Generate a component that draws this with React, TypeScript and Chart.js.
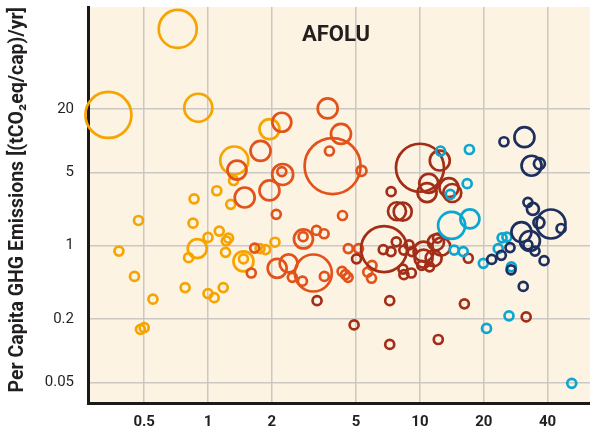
import React, { useEffect, useRef } from "react";
import { Chart, registerables } from "chart.js";

Chart.register(...registerables);

// ---- data ----
const TITLE = "AFOLU";
const Y_TITLE = "Per Capita GHG Emissions [(tCO\u2082eq/cap)/yr]";
const X_TICKS = [0.5, 1, 2, 5, 10, 20, 40];
const Y_TICKS = [0.05, 0.2, 1, 5, 20];
const X_RANGE = [0.2716, 63.4];
const Y_RANGE = [0.0318, 187.7];

// [x, y, bubble radius]
const yellowPoints = [
  [0.72, 116, 19], [0.339, 17.6, 23], [0.9, 20.6, 14], [1.95, 12.9, 10], [1.33, 6.48, 14],
  [1.32, 4.18, 4.5], [1.1, 3.34, 4.5], [0.86, 2.8, 4.5], [1.28, 2.48, 4.5], [0.47, 1.74, 4.5],
  [0.85, 1.64, 4.5], [1.13, 1.38, 4.5], [1.22, 1.11, 4.5], [1.25, 1.18, 4.5], [1.21, 0.865, 4.5],
  [1.0, 1.2, 4.5], [0.89, 0.94, 9.5], [0.81, 0.77, 4.5], [0.38, 0.89, 4.5], [0.45, 0.51, 4.5],
  [0.78, 0.4, 4.5], [1.0, 0.35, 4.5], [1.07, 0.32, 4.5], [1.18, 0.4, 4.5], [0.55, 0.31, 4.5],
  [0.5, 0.166, 4.5], [0.48, 0.16, 4.5], [1.47, 0.71, 10], [1.47, 0.75, 4.5], [2.07, 1.08, 4.5],
  [1.76, 0.94, 4.5], [1.87, 0.92, 4.5],
];
const orangePoints = [
  [2.23, 15.0, 9.5], [1.77, 8.0, 10], [1.37, 5.26, 9.5], [2.25, 4.77, 10.5], [2.23, 5.09, 4.5],
  [1.95, 3.36, 10], [1.49, 2.88, 10], [2.1, 1.99, 4.5], [3.87, 5.74, 28], [3.74, 7.98, 4.5],
  [3.67, 20.3, 10], [4.24, 11.6, 10], [5.3, 5.17, 5], [4.31, 1.94, 4.5], [2.82, 1.16, 9.5],
  [2.81, 1.22, 4.5], [3.25, 1.4, 4.5], [3.53, 1.3, 4.5], [2.12, 0.61, 9.5], [2.4, 0.68, 9],
  [3.14, 0.55, 18.5], [2.5, 0.5, 4.5], [2.79, 0.46, 4.5], [3.54, 0.51, 4.5], [1.6, 0.55, 4.5],
  [1.66, 0.95, 4.5], [4.59, 0.94, 4.5], [5.13, 0.94, 4.5], [4.29, 0.57, 4.5], [4.45, 0.53, 4.5],
  [4.58, 0.5, 4.5], [5.94, 0.65, 4.5], [5.67, 0.56, 4.5], [5.91, 0.49, 4.5],
];
const darkRedPoints = [
  [10.0, 5.53, 24], [12.4, 6.48, 10], [7.31, 3.27, 4.5], [11.0, 3.93, 9.5], [10.8, 3.21, 9.5],
  [13.7, 3.57, 9.5], [14.2, 3.18, 9], [7.79, 2.13, 9], [8.29, 2.11, 9], [6.77, 0.93, 23],
  [6.71, 0.92, 4.5], [7.3, 0.88, 4.5], [7.73, 1.09, 4.5], [8.39, 0.91, 4.5], [8.88, 1.02, 4.5],
  [9.17, 0.88, 4.5], [8.31, 0.6, 4.5], [8.4, 0.53, 4.5], [9.1, 0.55, 4.5], [5.02, 0.75, 4.5],
  [3.27, 0.3, 4.5], [7.2, 0.3, 4.5], [4.89, 0.176, 4.5], [7.2, 0.115, 4.5], [12.2, 0.128, 4.5],
  [16.2, 0.28, 4.5], [31.7, 0.21, 4.5], [16.9, 0.76, 4.5], [10.4, 0.88, 10], [10.4, 0.755, 9],
  [11.6, 0.76, 8], [11.9, 1.08, 8], [12.1, 1.18, 4.5], [12.6, 0.98, 9], [11.1, 0.63, 4.5],
  [10.2, 0.65, 4.5],
];
const cyanPoints = [
  [12.5, 7.98, 4.5], [17.1, 8.25, 4.5], [16.7, 3.9, 4.5], [13.9, 3.09, 4.5], [14.1, 1.56, 13.5],
  [17.2, 1.8, 9.5], [14.5, 0.91, 4.5], [16.0, 0.88, 4.5], [19.9, 0.68, 4.5], [23.4, 0.94, 4.5],
  [24.4, 1.19, 4.5], [25.7, 1.21, 4.5], [27.0, 0.63, 4.5], [26.3, 0.215, 4.5], [20.6, 0.163, 4.5],
  [52, 0.049, 4.5],
];
const navyPoints = [
  [24.9, 9.78, 4.5], [31.1, 10.8, 10], [33.6, 5.78, 10], [36.6, 6.04, 5.5], [32.3, 2.59, 4.5],
  [34.1, 2.24, 6], [41.5, 1.61, 14.5], [46.3, 1.46, 4.5], [36.4, 1.66, 5.5], [30.1, 1.35, 10],
  [33.0, 1.11, 10], [32.3, 1.02, 4.5], [34.9, 0.89, 4.5], [38.5, 0.72, 4.5], [26.6, 0.96, 4.5],
  [24.2, 0.81, 4.5], [21.8, 0.74, 4.5], [26.9, 0.59, 4.5], [30.7, 0.41, 4.5],
];

// ---- styles ----
const CREAM = "#fdf3e3";
const GRID = "#cbc8c3";
const AXIS = "#1a1a1a";
const TEXT = "#231f20";
const NARROW = "'Liberation Sans Narrow', Roboto, sans-serif";

const SERIES = [
  { data: navyPoints, color: "#1c2f5e" },
  { data: cyanPoints, color: "#0aa7d3" },
  { data: darkRedPoints, color: "#a32e17" },
  { data: orangePoints, color: "#e1531a" },
  { data: yellowPoints, color: "#f5a400" },
];

const bgPlugin = {
  id: "creamBg",
  beforeDraw(chart: any) {
    const { ctx, chartArea } = chart;
    ctx.save();
    ctx.fillStyle = CREAM;
    ctx.fillRect(chartArea.left, chartArea.top, chartArea.right - chartArea.left, chartArea.bottom - chartArea.top);
    ctx.restore();
  },
};

const titlePlugin = {
  id: "innerTitle",
  afterDraw(chart: any) {
    const { ctx, chartArea } = chart;
    ctx.save();
    ctx.font = "bold 22px Roboto, sans-serif";
    ctx.fillStyle = TEXT;
    ctx.textAlign = "center";
    ctx.textBaseline = "alphabetic";
    const cx = chartArea.left + (chartArea.right - chartArea.left) * 0.494;
    ctx.fillText(TITLE, cx, chartArea.top + 34);
    ctx.restore();
  },
};

export default function App() {
  const ref = useRef<HTMLCanvasElement | null>(null);
  useEffect(() => {
    if (!ref.current) return;
    const chart = new Chart(ref.current, {
      type: "bubble",
      data: {
        datasets: SERIES.map((s) => ({
          data: s.data.map(([x, y, r]) => ({ x, y, r })),
          borderColor: s.color,
          backgroundColor: "rgba(0,0,0,0)",
          borderWidth: 2.7,
          clip: false as any,
        })),
      },
      options: {
        responsive: false,
        animation: false,
        events: [],
        layout: { autoPadding: false, padding: { top: 7, right: 0, left: 0, bottom: 0 } },
        plugins: { legend: { display: false }, tooltip: { enabled: false }, title: { display: false } },
        scales: {
          x: {
            type: "logarithmic",
            min: X_RANGE[0],
            max: X_RANGE[1],
            afterBuildTicks: (s: any) => {
              s.ticks = X_TICKS.map((v) => ({ value: v }));
            },
            afterFit: (s: any) => {
              s.height = 31;
              s.paddingLeft = 0;
              s.paddingRight = 0;
            },
            grid: { color: GRID, lineWidth: 1.5, drawTicks: false },
            border: { display: true, color: AXIS, width: 3 },
            ticks: {
              autoSkip: false,
              maxRotation: 0,
              padding: 10,
              color: TEXT,
              font: { family: "Roboto, sans-serif", size: 15, weight: "bold" },
              callback: (v: any) => String(v),
            },
          },
          y: {
            type: "logarithmic",
            min: Y_RANGE[0],
            max: Y_RANGE[1],
            afterBuildTicks: (s: any) => {
              s.ticks = Y_TICKS.map((v) => ({ value: v }));
            },
            afterFit: (s: any) => {
              s.width = 88;
              s.paddingTop = 0;
              s.paddingBottom = 0;
            },
            grid: { color: GRID, lineWidth: 1.5, drawTicks: false },
            border: { display: true, color: AXIS, width: 3 },
            ticks: {
              autoSkip: false,
              padding: 14,
              color: TEXT,
              font: { family: NARROW, size: 15 },
              callback: (v: any) => String(v),
            },
            title: {
              display: true,
              text: Y_TITLE,
              color: TEXT,
              align: "end",
              padding: { top: 6, bottom: 0 },
              font: { family: NARROW, size: 19.5, weight: "bold" },
            },
          },
        },
      },
      plugins: [bgPlugin, titlePlugin],
    } as any);
    return () => chart.destroy();
  }, []);
  return (
    <div style={{ position: "fixed", left: 0, top: 0, width: 590, height: 434 }}>
      <canvas ref={ref} width={590} height={434} style={{ display: "block" }} />
    </div>
  );
}
